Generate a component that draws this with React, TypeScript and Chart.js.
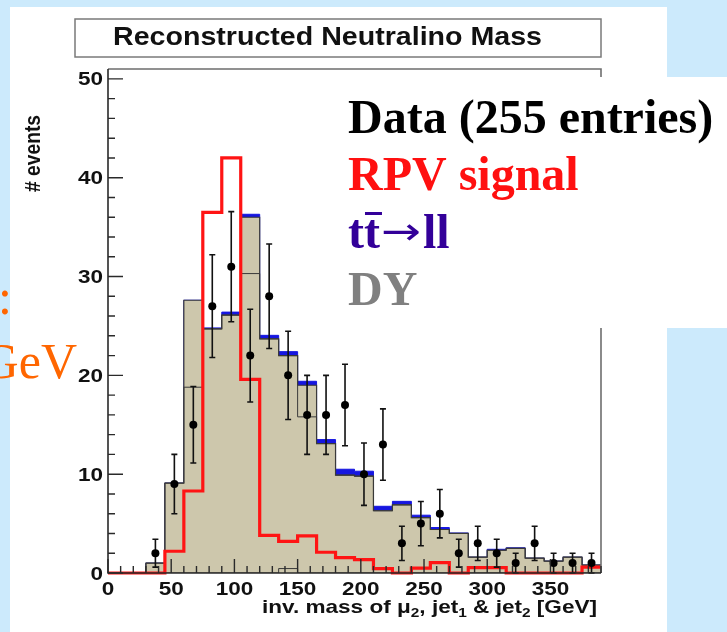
import React, { useEffect, useRef } from "react";
import { Chart, registerables } from "chart.js";

Chart.register(...registerables);

// Histogram binning: 26 bins of 15 GeV from 0 to 390 GeV
const binEdges = [
  0, 15, 30, 45, 60, 75, 90, 105, 120, 135, 150, 165, 180, 195, 210, 225, 240,
  255, 270, 285, 300, 315, 330, 345, 360, 375, 390,
];

// Drell-Yan background (beige stack, upper outline)
const dyCounts = [
  0, 0, 1.0, 9.1, 27.6, 24.7, 26.1, 36.0, 23.7, 22.0, 19.0, 13.1, 9.9, 9.8, 6.3,
  6.9, 5.6, 4.4, 4.0, 1.6, 2.3, 2.5, 1.5, 1.2, 1.6, 0.8,
];

// Lower component outline drawn inside the beige stack
const dyLowerCounts = [
  0, 0, 1.0, 9.1, 18.8, 24.7, 26.1, 30.3, 23.7, 22.0, 15.8, 13.1, 9.9, 9.8, 6.3,
  6.9, 5.6, 4.4, 4.0, 1.6, 2.3, 2.5, 1.5, 1.2, 1.6, 0.8,
];

// Small component sitting on the baseline
const otherCounts = [
  0, 0, 0, 0, 0, 0, 0, 0, 0, 0.45, 0, 0, 0, 0, 0, 0, 0, 0, 0, 0, 0, 0, 0, 0, 0, 0,
];

// ttbar -> ll contribution stacked on top of DY
const ttCounts = [
  0, 0, 0, 0, 0, 0.1, 0.3, 0.3, 0.35, 0.4, 0.4, 0.4, 0.6, 0.5, 0.45, 0.35, 0.25,
  0.2, 0.05, 0, 0.1, 0.05, 0, 0, 0, 0,
];

// RPV signal expectation
const signalCounts = [
  0, 0, 0, 2.2, 8.3, 36.5, 42.0, 19.6, 3.8, 3.2, 3.75, 2.1, 1.55, 1.35, 0.45, 0,
  0.5, 1.05, 0, 0.55, 0.55, 0, 0, 0, 0, 0.6,
];

// Observed data (255 entries) per bin, with statistical errors
const dataCounts = [
  null, null, 2, 9, 15, 27, 31, 22, 28, 20, 16, 16, 17, 10, 13, 3, 5, 6, 2, 3, 2,
  1, 3, 1, 1, 1,
];
const dataErrors = [
  0, 0, 1.41, 3.0, 3.87, 5.2, 5.57, 4.69, 5.29, 4.47, 4.0, 4.0, 4.12, 3.16, 3.61,
  1.73, 2.24, 2.45, 1.41, 1.73, 1.41, 1.0, 1.73, 1.0, 1.0, 1.0,
];

const xTickLabels = [0, 50, 100, 150, 200, 250, 300, 350];
const yTickLabels = [0, 10, 20, 30, 40, 50];
const xMinorStep = 10;
const yMinorStep = 2;

const titleText = "Reconstructed Neutralino Mass";
const yTitle = "# events";
const xTitleParts: { t: string; sub: boolean }[] = [
  { t: "inv. mass of \u03bc", sub: false },
  { t: "2", sub: true },
  { t: ", jet", sub: false },
  { t: "1", sub: true },
  { t: " & jet", sub: false },
  { t: "2", sub: true },
  { t: " [GeV]", sub: false },
];

const legendEntries = [
  { text: "Data (255 entries)", color: "#000000" },
  { text: "RPV signal", color: "#ff1010" },
  { text: "tt\u2192ll", color: "#330099" },
  { text: "DY", color: "#808080" },
];

const SLIDE_BLUE = "#cceafc";
const BEIGE = "#cdc7ac";
const TT_BLUE = "#1616e0";
const SANS = "'Liberation Sans', Arial, sans-serif";
const SERIF = "'Liberation Serif', 'Times New Roman', serif";
const ARROW_FONT = "'DejaVu Sans', sans-serif";

function histPoints(vals: number[]) {
  const pts = vals.map((v, i) => ({ x: binEdges[i], y: v }));
  pts.push({ x: binEdges[binEdges.length - 1], y: vals[vals.length - 1] });
  return pts;
}

function drawStretched(
  ctx: CanvasRenderingContext2D,
  text: string,
  x: number,
  y: number,
  sx: number,
  align: CanvasTextAlign
) {
  ctx.save();
  ctx.translate(x, y);
  ctx.scale(sx, 1);
  ctx.textAlign = align;
  ctx.textBaseline = "alphabetic";
  ctx.fillText(text, 0, 0);
  ctx.restore();
}

const slidePlugin = {
  id: "slideBackground",
  beforeDraw(chart: any) {
    const ctx: CanvasRenderingContext2D = chart.ctx;
    ctx.save();
    ctx.fillStyle = SLIDE_BLUE;
    ctx.fillRect(0, 0, chart.width, chart.height);
    ctx.fillStyle = "#ffffff";
    ctx.fillRect(10, 7, 657, chart.height - 7);

    // title box
    ctx.fillStyle = "#ffffff";
    ctx.fillRect(75, 19, 526, 38);
    ctx.strokeStyle = "#7a7a7a";
    ctx.lineWidth = 1.5;
    ctx.strokeRect(75, 19, 526, 38);
    ctx.fillStyle = "#111111";
    ctx.font = `bold 25px ${SANS}`;
    const tw = ctx.measureText(titleText).width;
    drawStretched(ctx, titleText, 113, 45, 429 / tw, "left");
    ctx.restore();
  },
};

const errorBarPlugin = {
  id: "errorBars",
  beforeDatasetDraw(chart: any, args: any) {
    if (args.index !== 0) return;
    const ctx: CanvasRenderingContext2D = chart.ctx;
    const xs = chart.scales.x;
    const ys = chart.scales.y;
    ctx.save();
    ctx.strokeStyle = "#111111";
    ctx.lineWidth = 1.6;
    dataCounts.forEach((n, i) => {
      if (n === null) return;
      const cx = xs.getPixelForValue((binEdges[i] + binEdges[i + 1]) / 2);
      const lo = ys.getPixelForValue(Math.max(0, n - dataErrors[i]));
      const hi = ys.getPixelForValue(n + dataErrors[i]);
      ctx.beginPath();
      ctx.moveTo(cx, lo);
      ctx.lineTo(cx, hi);
      ctx.moveTo(cx - 3, hi);
      ctx.lineTo(cx + 3, hi);
      ctx.moveTo(cx - 3, lo);
      ctx.lineTo(cx + 3, lo);
      ctx.stroke();
    });
    ctx.restore();
  },
};

const framePlugin = {
  id: "rootFrame",
  afterDatasetsDraw(chart: any) {
    const ctx: CanvasRenderingContext2D = chart.ctx;
    const { left, right, top, bottom } = chart.chartArea;
    const xs = chart.scales.x;
    const ys = chart.scales.y;
    ctx.save();
    // top and right frame
    ctx.strokeStyle = "#6e6e6e";
    ctx.lineWidth = 1.6;
    ctx.beginPath();
    ctx.moveTo(left, top);
    ctx.lineTo(right, top);
    ctx.lineTo(right, bottom);
    ctx.stroke();
    // axes
    ctx.strokeStyle = "#2a2a2a";
    ctx.lineWidth = 1.6;
    ctx.beginPath();
    ctx.moveTo(left, top);
    ctx.lineTo(left, bottom);
    ctx.lineTo(right, bottom);
    ctx.stroke();

    // y ticks
    ctx.lineWidth = 1.4;
    ctx.beginPath();
    for (let v = 0; v <= ys.max + 1e-6; v += yMinorStep) {
      const py = ys.getPixelForValue(v);
      const major = Math.abs(v % 10) < 1e-6;
      ctx.moveTo(left, py);
      ctx.lineTo(left + (major ? 15 : 7), py);
    }
    // x ticks
    for (let v = 0; v <= xs.max + 1e-6; v += xMinorStep) {
      const px = xs.getPixelForValue(v);
      const major = Math.abs(v % 50) < 1e-6;
      ctx.moveTo(px, bottom);
      ctx.lineTo(px, bottom - (major ? 14 : 7));
    }
    ctx.stroke();

    // tick labels
    ctx.fillStyle = "#111111";
    ctx.font = `bold 18px ${SANS}`;
    yTickLabels.forEach((v) => {
      drawStretched(ctx, String(v), left - 5, ys.getPixelForValue(v) + 6.5, 1.25, "right");
    });
    xTickLabels.forEach((v) => {
      drawStretched(ctx, String(v), xs.getPixelForValue(v), bottom + 22, 1.25, "center");
    });

    // x title, right aligned at the axis end
    const mainFont = `bold 19px ${SANS}`;
    const subFont = `bold 13px ${SANS}`;
    let total = 0;
    const widths = xTitleParts.map((p) => {
      ctx.font = p.sub ? subFont : mainFont;
      const w = ctx.measureText(p.t).width;
      total += w;
      return w;
    });
    const sx = 335 / total;
    ctx.save();
    ctx.translate(262, 613);
    ctx.scale(sx, 1);
    ctx.textAlign = "left";
    let cx = 0;
    xTitleParts.forEach((p, i) => {
      ctx.font = p.sub ? subFont : mainFont;
      ctx.fillText(p.t, cx, p.sub ? 4 : 0);
      cx += widths[i];
    });
    ctx.restore();

    // y title, rotated, ending near the top of the axis
    ctx.save();
    ctx.font = `bold 18px ${SANS}`;
    const yw = ctx.measureText(yTitle).width;
    ctx.translate(40, 192);
    ctx.rotate(-Math.PI / 2);
    ctx.scale(77 / yw, 1.2);
    ctx.textAlign = "left";
    ctx.fillText(yTitle, 0, 0);
    ctx.restore();
    ctx.restore();
  },
};

const overlayPlugin = {
  id: "slideOverlay",
  afterDraw(chart: any) {
    const ctx: CanvasRenderingContext2D = chart.ctx;
    ctx.save();
    // legend panel
    ctx.fillStyle = "#ffffff";
    ctx.fillRect(335, 77, chart.width - 335, 251);
    ctx.textAlign = "left";
    ctx.textBaseline = "alphabetic";
    const baselines = [133, 190, 248, 305];
    const legX = 348;
    legendEntries.forEach((e, i) => {
      ctx.fillStyle = e.color;
      if (e.text.includes("\u2192")) {
        // long, thin arrow between the two particle names
        const [pre, post] = e.text.split("\u2192");
        ctx.font = `bold 48px ${SERIF}`;
        const preW = ctx.measureText(pre).width;
        const tW = ctx.measureText("t").width;
        ctx.fillText(pre, legX, baselines[i]);
        ctx.fillRect(legX + tW + 1, 212, tW + 1, 3);
        ctx.font = `38px ${ARROW_FONT}`;
        const arrowW = ctx.measureText("\u2192").width;
        const arrowTarget = 40;
        drawStretched(ctx, "\u2192", legX + preW + 1, baselines[i] - 4, arrowTarget / arrowW, "left");
        ctx.font = `bold 48px ${SERIF}`;
        ctx.fillText(post, legX + preW + arrowTarget + 3, baselines[i]);
      } else {
        ctx.font = `bold 48px ${SERIF}`;
        ctx.fillText(e.text, legX, baselines[i]);
      }
    });

    // slide text running in from the left
    ctx.fillStyle = "#ff6600";
    ctx.font = `50px ${SERIF}`;
    ctx.textAlign = "center";
    ctx.fillText(":", 5, 314);
    ctx.textAlign = "right";
    ctx.fillText("GeV", 77, 378);
    ctx.restore();
  },
};

export default function App() {
  const canvasRef = useRef<HTMLCanvasElement>(null);

  useEffect(() => {
    document.body.style.margin = "0";
    const canvas = canvasRef.current;
    if (!canvas) return;

    const totalCounts = dyCounts.map((v, i) => v + ttCounts[i]);
    const dataPoints = dataCounts
      .map((n, i) => (n === null ? null : { x: (binEdges[i] + binEdges[i + 1]) / 2, y: n }))
      .filter((p) => p !== null);

    const chart = new Chart(canvas, {
      type: "line",
      data: {
        datasets: [
          {
            label: "Data",
            data: dataPoints as any,
            showLine: false,
            pointRadius: 4,
            pointBackgroundColor: "#000000",
            pointBorderWidth: 0,
            order: 0,
            clip: false as any,
          },
          {
            label: "RPV signal",
            data: histPoints(signalCounts),
            stepped: "before",
            borderColor: "#ff1414",
            borderWidth: 3.2,
            pointRadius: 0,
            fill: false,
            order: 1,
            clip: false as any,
          },
          {
            label: "DY lower",
            data: histPoints(dyLowerCounts),
            stepped: "before",
            borderColor: "#3a3a3a",
            borderWidth: 1,
            pointRadius: 0,
            fill: false,
            order: 2,
          },
          {
            label: "other",
            data: histPoints(otherCounts),
            stepped: "before",
            borderColor: "#3a3a3a",
            borderWidth: 1,
            pointRadius: 0,
            fill: false,
            order: 2,
          },
          {
            label: "DY",
            data: histPoints(dyCounts),
            stepped: "before",
            borderColor: "#3a3a3a",
            borderWidth: 1.2,
            backgroundColor: BEIGE,
            pointRadius: 0,
            fill: "origin",
            order: 3,
          },
          {
            label: "tt -> ll",
            data: histPoints(totalCounts),
            stepped: "before",
            borderColor: TT_BLUE,
            borderWidth: 1,
            backgroundColor: TT_BLUE,
            pointRadius: 0,
            fill: "origin",
            order: 4,
          },
        ],
      },
      options: {
        animation: false,
        responsive: false,
        devicePixelRatio: 1,
        layout: { padding: { left: 108, right: 126, top: 69, bottom: 59 } },
        scales: {
          x: { type: "linear", min: 0, max: 390, display: false },
          y: { type: "linear", min: 0, max: 51, display: false },
        },
        plugins: {
          legend: { display: false },
          tooltip: { enabled: false },
          title: { display: false },
        },
      },
      plugins: [slidePlugin, errorBarPlugin, framePlugin, overlayPlugin],
    });

    return () => chart.destroy();
  }, []);

  return (
    <canvas
      ref={canvasRef}
      width={727}
      height={632}
      style={{ display: "block", width: 727, height: 632 }}
    />
  );
}
